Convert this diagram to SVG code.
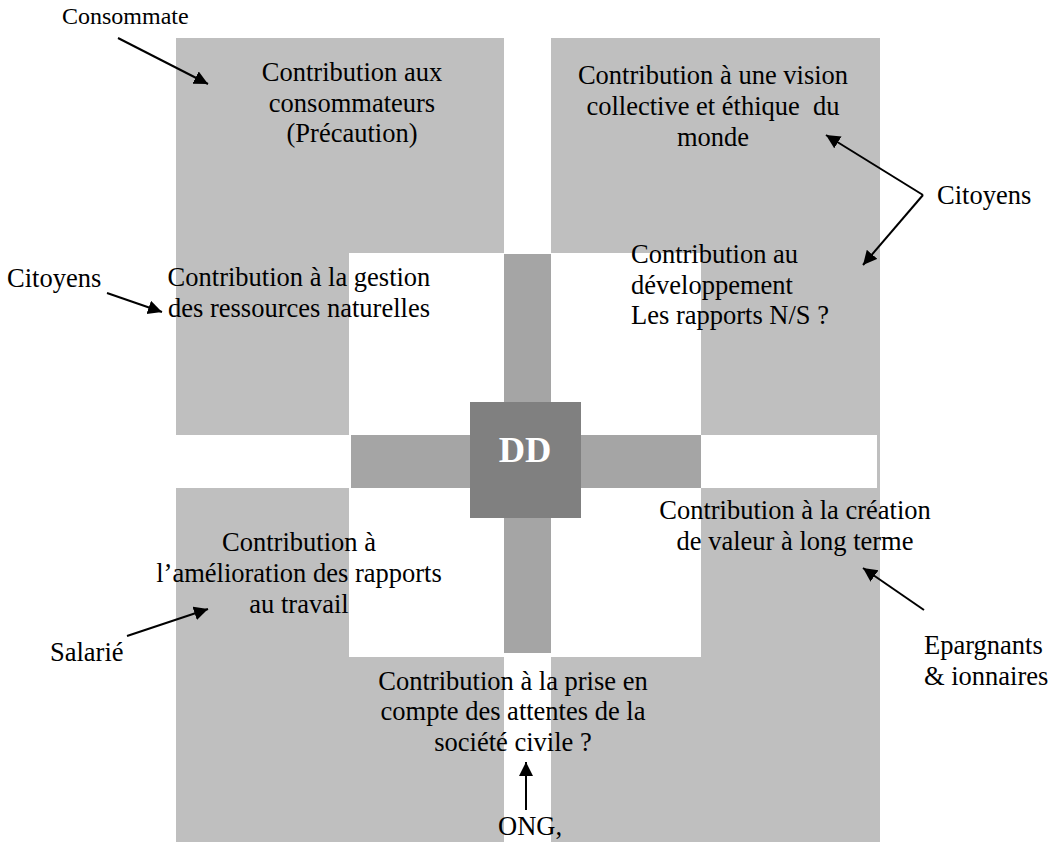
<svg xmlns="http://www.w3.org/2000/svg" width="1059" height="842" viewBox="0 0 1059 842" font-family="'Liberation Serif', 'Times New Roman', 'DejaVu Serif', serif">
<style>
.q{fill:#bfbfbf}
.bar{fill:#a5a5a5}
.dd{fill:#808080}
text{font-family:'Liberation Serif','Times New Roman','DejaVu Serif',serif;font-size:26.5px;fill:#000}
.c{text-anchor:middle}
.ddt{font-weight:bold;font-size:36.5px;fill:#fff;text-anchor:middle}
.arr{stroke:#000;stroke-width:2;fill:none;marker-end:url(#ah)}
</style>
<defs>
<marker id="ah" markerUnits="userSpaceOnUse" markerWidth="16" markerHeight="16" refX="14" refY="7" orient="auto">
<path d="M0,0 L14,7 L0,14 Z" fill="#000"/>
</marker>
</defs>
<rect width="1059" height="842" fill="#fff"/>

<g id="quadrant-consommateurs">
<path class="q" d="M176,38 H504 V253 H349 V435 H176 Z"/>
<text class="c" x="352" y="81">Contribution aux</text>
<text class="c" x="352" y="112">consommateurs</text>
<text class="c" x="352" y="142">(Précaution)</text>
</g>

<g id="quadrant-vision">
<path class="q" d="M551,38 H880 V489 H877 V435 H701 V253 H551 Z"/>
<text class="c" x="713" y="83.5">Contribution à une vision</text>
<text class="c" x="713" y="114.5" xml:space="preserve">collective et éthique  du</text>
<text class="c" x="713" y="145.5">monde</text>
</g>

<g id="quadrant-travail">
<path class="q" d="M176,488 H349 V657 H504 V842 H176 Z"/>
</g>

<g id="quadrant-valeur">
<path class="q" d="M701,488 H880 V842 H551 V657 H701 Z"/>
</g>

<g id="cross">
<rect class="bar" x="504" y="254" width="47" height="399"/>
<rect class="bar" x="351" y="435" width="350" height="53"/>
</g>

<g id="node-dd">
<rect class="dd" x="470" y="402" width="111" height="116"/>
<text class="ddt" x="525" y="461.5">DD</text>
</g>

<g id="node-developpement">
<text x="631" y="262.5">Contribution au</text>
<text x="631" y="293.5">développement</text>
<text x="631" y="323.5">Les rapports N/S ?</text>
</g>

<g id="node-ressources">
<text class="c" x="299" y="285.5">Contribution à la gestion</text>
<text class="c" x="299" y="317">des ressources naturelles</text>
</g>

<g id="node-travail">
<text class="c" x="299" y="551">Contribution à</text>
<text class="c" x="299" y="582">l’amélioration des rapports</text>
<text class="c" x="299" y="613">au travail</text>
</g>

<g id="node-societe">
<text class="c" x="513" y="689.5">Contribution à la prise en</text>
<text class="c" x="513" y="720">compte des attentes de la</text>
<text class="c" x="513" y="751">société civile ?</text>
</g>

<g id="node-creation">
<text class="c" x="795" y="518.5">Contribution à la création</text>
<text class="c" x="795" y="549.5">de valeur à long terme</text>
</g>

<g id="label-consommate">
<text x="62" y="23.5" style="font-size:24px">Consommate</text>
</g>
<g id="label-citoyens-left">
<text x="7" y="286.5">Citoyens</text>
</g>
<g id="label-citoyens-right">
<text x="937" y="203.5">Citoyens</text>
</g>
<g id="label-salarie">
<text x="50" y="660.5">Salarié</text>
</g>
<g id="label-epargnants">
<text x="924" y="653.5">Epargnants</text>
<text x="924" y="685">&amp; ionnaires</text>
</g>
<g id="label-ong">
<text x="498" y="835">ONG,</text>
</g>

<g id="connectors">
<line class="arr" x1="118" y1="38" x2="208" y2="84"/>
<line class="arr" x1="107" y1="293" x2="162" y2="312"/>
<line class="arr" x1="923" y1="195" x2="826" y2="135"/>
<line class="arr" x1="923" y1="195" x2="863" y2="265"/>
<line class="arr" x1="127" y1="636" x2="208" y2="609"/>
<line class="arr" x1="924" y1="610" x2="863" y2="568"/>
<line class="arr" x1="526" y1="810" x2="526" y2="762"/>
</g>
</svg>
